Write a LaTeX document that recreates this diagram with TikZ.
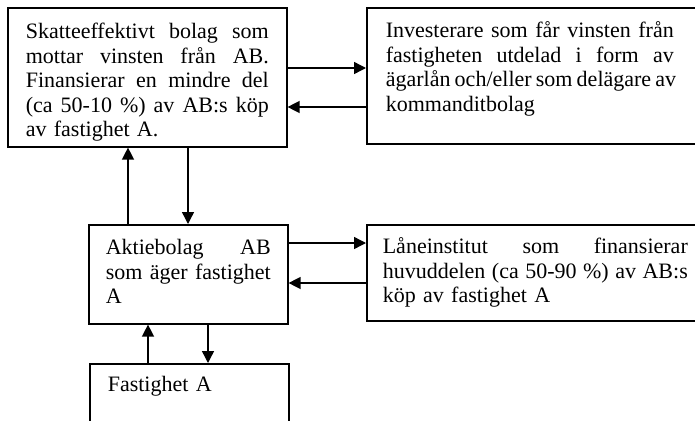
\documentclass[tikz,border=0pt]{standalone}
\usepackage{fontspec}
\setmainfont{Liberation Serif}
\usetikzlibrary{positioning,arrows.meta,calc}

% one justified line of a given width
\newcommand{\jl}[2]{{\spaceskip=0.25em plus 2em minus 0.06em\makebox[#1][s]{#2}}}

\begin{document}
\begin{tikzpicture}[
  x=1pt, y=1pt,
  font=\fontsize{22}{24.5}\selectfont,
  >={Triangle[length=12pt,width=12pt]},
  blk/.style={draw, line width=1.6pt, anchor=north west, align=left, inner ysep=0pt},
  arr/.style={->, line width=1.4pt},
]
  \useasboundingbox (0,0) rectangle (695,-420);
  \clip (0,0) rectangle (695,-420);

  % upper row
  \node[blk, inner xsep=18pt, text width=243pt, text height=31pt, text depth=108pt] (skatt) at (7,-7)
    {\jl{243pt}{Skatteeffektivt bolag som}\\
     \jl{243pt}{mottar vinsten från AB.}\\
     \jl{243pt}{Finansierar en mindre del}\\
     \jl{243pt}{(ca 50-10 \%) av AB:s köp}\\
     av fastighet A.};
  \node[blk, inner xsep=19pt, text width=360pt, text height=30pt, text depth=106pt] (invest) at (366,-7)
    {\jl{288pt}{Investerare som får vinsten från}\\
     \jl{288pt}{fastigheten utdelad i form av}\\
     \jl{288pt}{ägarlån och/eller som delägare av}\\
     kommanditbolag};

  % middle row
  \node[blk, inner xsep=17pt, text width=165pt, text height=30pt, text depth=69pt] (ab) at (88,-224)
    {\jl{165pt}{Aktiebolag AB}\\
     \jl{165pt}{som äger fastighet}\\
     A};
  \node[blk, inner xsep=16pt, text width=360pt, text height=29pt, text depth=67pt] (lan) at (366,-224)
    {\jl{305pt}{Låneinstitut som finansierar}\\
     \jl{305pt}{huvuddelen (ca 50-90 \%) av AB:s}\\
     köp av fastighet A};

  % bottom
  \node[blk, inner xsep=18pt, text width=163pt, text height=28pt, text depth=60pt] (fast) at (89,-363)
    {Fastighet A};

  % horizontal flows
  \draw[arr] ($(skatt.north east)+(0,-61)$) coordinate (s1) -- (s1 -| invest.west);
  \draw[arr] ($(invest.north west)+(0,-100)$) coordinate (s2) -- (s2 -| skatt.east);
  \draw[arr] ($(ab.north east)+(0,-19)$) coordinate (s3) -- (s3 -| lan.west);
  \draw[arr] ($(lan.north west)+(0,-59)$) coordinate (s4) -- (s4 -| ab.east);

  % vertical flows
  \path (ab.north west) ++(40,0) coordinate (u1) ++(60,0) coordinate (d1);
  \draw[arr] (u1) -- (u1 |- skatt.south);
  \draw[arr] (d1 |- skatt.south) -- (d1);
  \path (fast.north west) ++(59,0) coordinate (u2) ++(60,0) coordinate (d2);
  \draw[arr] (u2) -- (u2 |- ab.south);
  \draw[arr] (d2 |- ab.south) -- (d2);
\end{tikzpicture}
\end{document}
